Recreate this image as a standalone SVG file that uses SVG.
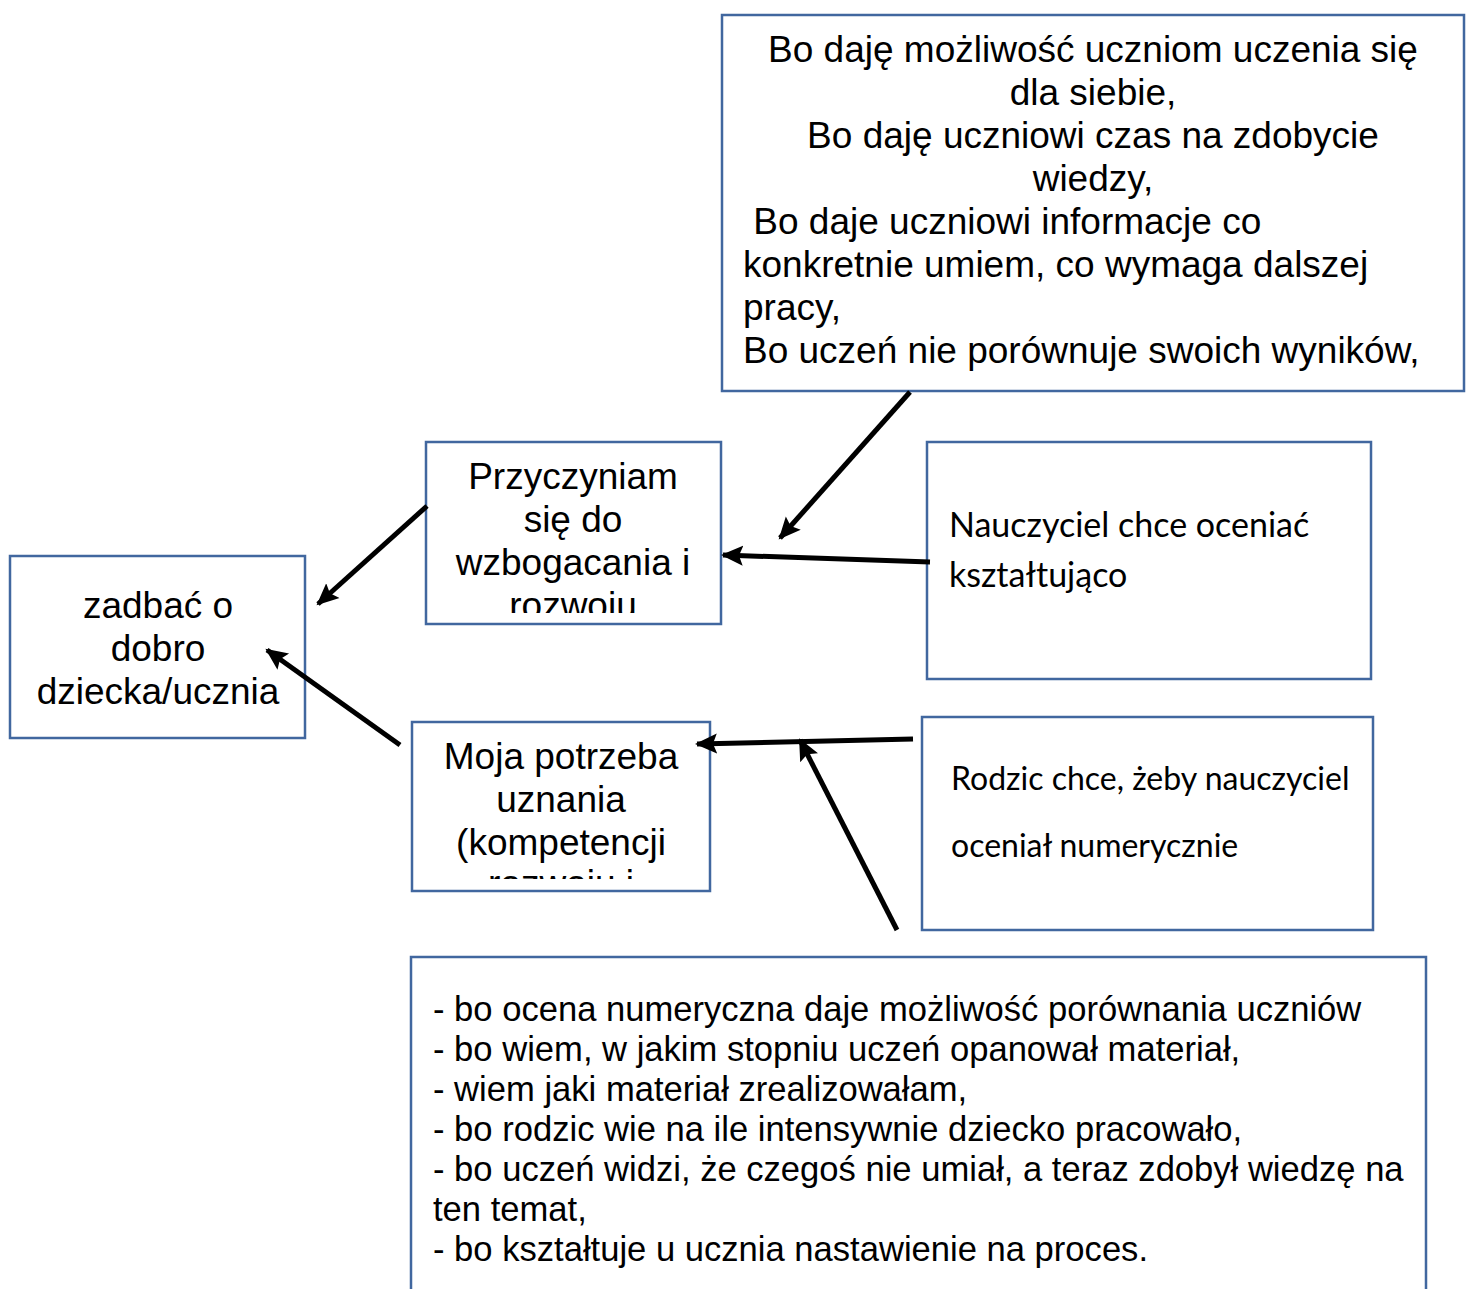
<svg xmlns="http://www.w3.org/2000/svg" width="1469" height="1289" viewBox="0 0 1469 1289">
<style>
.box{fill:#fff;stroke:#41679f;stroke-width:2.5}
.t{font-family:"Liberation Sans",Arial,sans-serif;font-size:37px;fill:#000}
.c{text-anchor:middle}
.cal{font-family:Lato,"Open Sans",sans-serif;fill:#000}
.conn line{stroke:#000;stroke-width:5;marker-end:url(#ah)}
</style>
<defs>
<marker id="ah" markerUnits="userSpaceOnUse" markerWidth="24" markerHeight="24" refX="20" refY="12" orient="auto" viewBox="0 0 24 24">
<path d="M0,2 L22,12 L0,22 L4,12 Z" fill="#000"/>
</marker>
<clipPath id="cTop"><rect x="722" y="15" width="742" height="376"/></clipPath>
<clipPath id="cPrz"><rect x="426" y="442" width="295" height="171"/></clipPath>
<clipPath id="cMoja"><rect x="412" y="722" width="298" height="157"/></clipPath>
</defs>
<rect width="1469" height="1289" fill="#fff"/>
<g id="top">
<rect class="box" x="722" y="15" width="742" height="376"/>
<g clip-path="url(#cTop)" class="t">
<text class="c" x="1093" y="62">Bo daję możliwość uczniom uczenia się</text>
<text class="c" x="1093" y="105">dla siebie,</text>
<text class="c" x="1093" y="148">Bo daję uczniowi czas na zdobycie</text>
<text class="c" x="1093" y="191">wiedzy,</text>
<text x="743" y="234" xml:space="preserve"> Bo daje uczniowi informacje co</text>
<text x="743" y="277">konkretnie umiem, co wymaga dalszej</text>
<text x="743" y="320">pracy,</text>
<text x="743" y="363">Bo uczeń nie porównuje swoich wyników,</text>
</g>
</g>
<g id="przyczyniam">
<rect class="box" x="426" y="442" width="295" height="182"/>
<g clip-path="url(#cPrz)" class="t c">
<text x="573" y="489">Przyczyniam</text>
<text x="573" y="532">się do</text>
<text x="573" y="575">wzbogacania i</text>
<text x="573" y="618">rozwoju</text>
</g>
</g>
<g id="zadbac">
<rect class="box" x="10" y="556" width="295" height="182"/>
<g class="t c">
<text x="158" y="618">zadbać o</text>
<text x="158" y="661">dobro</text>
<text x="158" y="704">dziecka/ucznia</text>
</g>
</g>
<g id="moja">
<rect class="box" x="412" y="722" width="298" height="169"/>
<g clip-path="url(#cMoja)" class="t c">
<text x="561" y="769">Moja potrzeba</text>
<text x="561" y="812">uznania</text>
<text x="561" y="855">(kompetencji</text>
<text x="561" y="896">rozwoju i</text>
</g>
</g>
<g id="nauczyciel">
<rect class="box" x="927" y="442" width="444" height="237"/>
<text class="cal" style="font-size:34px" x="949" y="537">Nauczyciel chce oceniać</text>
<text class="cal" style="font-size:34px" x="949" y="587">kształtująco</text>
</g>
<g id="rodzic">
<rect class="box" x="922" y="717" width="451" height="213"/>
<text class="cal" style="font-size:32px" x="951" y="790">Rodzic chce, żeby nauczyciel</text>
<text class="cal" style="font-size:32px" x="951" y="857">oceniał numerycznie</text>
</g>
<g id="bottom">
<path class="box" d="M411,1295 V957 H1426 V1295"/>
<g class="t" style="font-size:34.6px">
<text x="433" y="1021">- bo ocena numeryczna daje możliwość porównania uczniów</text>
<text x="433" y="1061">- bo wiem, w jakim stopniu uczeń opanował materiał,</text>
<text x="433" y="1101">- wiem jaki materiał zrealizowałam,</text>
<text x="433" y="1141">- bo rodzic wie na ile intensywnie dziecko pracowało,</text>
<text x="433" y="1181">- bo uczeń widzi, że czegoś nie umiał, a teraz zdobył wiedzę na</text>
<text x="433" y="1221">ten temat,</text>
<text x="433" y="1261">- bo kształtuje u ucznia nastawienie na proces.</text>
</g>
</g>
<g class="conn" id="connectors">
<line x1="910" y1="392" x2="780" y2="538"/>
<line x1="930" y1="562" x2="723" y2="555"/>
<line x1="427" y1="506" x2="318" y2="604"/>
<line x1="400" y1="745" x2="267" y2="650"/>
<line x1="913" y1="739" x2="697" y2="744"/>
<line x1="897" y1="930" x2="800" y2="740"/>
</g>
</svg>
